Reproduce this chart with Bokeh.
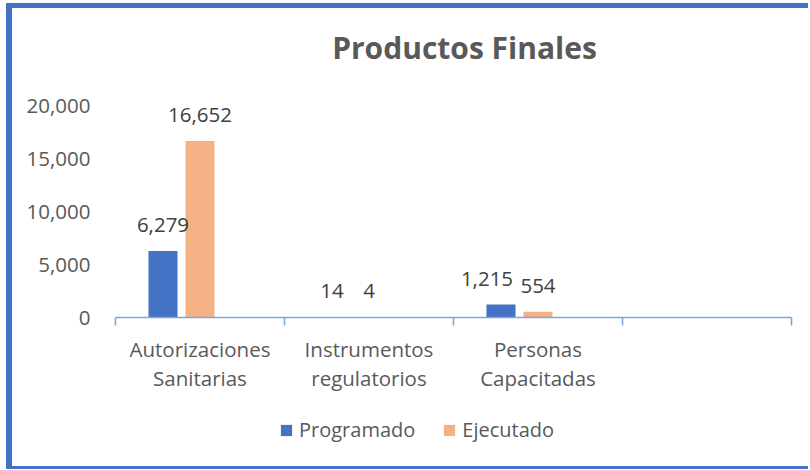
from bokeh.plotting import figure
from bokeh.layouts import column
from bokeh.models import (Range1d, FixedTicker, LinearAxis, Legend, LegendItem, Label,
                          NumeralTickFormatter, ColumnDataSource)
from bokeh.transform import dodge
from bokeh.core.properties import value
from bokeh.embed import file_html
from bokeh.resources import INLINE

# ---------------- data ----------------
title_text = "Productos Finales"
categories = ["Autorizaciones\nSanitarias", "Instrumentos\nregulatorios", "Personas\nCapacitadas", ""]
series = ["Programado", "Ejecutado"]
programado = [6279, 14, 1215]
ejecutado = [16652, 4, 554]
y_ticks = [0, 5000, 10000, 15000, 20000]
y_max = 20000

# ---------------- style / layout ----------------
FONT = "Open Sans"
BLUE = "#4472C4"
ORANGE = "#F4B183"
GRAY = "#595959"
DARK = "#404040"
AXIS = "#7FA6DA"
BAR_W = 0.172
DODGE = 0.219
prog_label_nudge = [0, 0, -14]

W = 796
PLOT_PX = 212        # pixels from 0 to y_max
HEAD_PX = 85         # extra frame space above y_max (holds the title)
FRAME_W = 676
BOTTOM_PX = 100
LEG_H = 49

n = len(categories)
centers = [i + 0.5 for i in range(len(programado))]
y_end = y_max * (PLOT_PX + HEAD_PX) / PLOT_PX

src = ColumnDataSource(dict(
    x=centers,
    prog=programado,
    ejec=ejecutado,
    prog_lbl=[f"{v:,}" for v in programado],
    ejec_lbl=[f"{v:,}" for v in ejecutado],
    nudge=prog_label_nudge,
))

frame_css = {
    "margin-left": "6px", "margin-top": "3px",
    "border-left": f"6px solid {BLUE}",
    "border-top": f"5px solid {BLUE}",
    "border-bottom": f"3px solid {BLUE}",
    "background-color": "white",
}

p = figure(width=W, height=12 + PLOT_PX + HEAD_PX + BOTTOM_PX,
           output_backend="svg", toolbar_location=None,
           x_range=Range1d(0, n), y_range=Range1d(0, y_end),
           frame_width=FRAME_W, frame_height=PLOT_PX + HEAD_PX,
           min_border_left=103, min_border_right=W - 103 - FRAME_W,
           min_border_top=12, min_border_bottom=BOTTOM_PX,
           x_axis_type=None, y_axis_type=None)
p.outline_line_color = None
p.background_fill_color = "white"
p.border_fill_color = "white"

# title (inside the extended frame)
p.add_layout(Label(x=n * 349 / FRAME_W, y=y_max * 270 / PLOT_PX, text=title_text,
                   text_align="center", text_baseline="alphabetic", text_font=FONT,
                   text_font_style="bold", text_font_size="30px", text_color=GRAY))

# y axis
yax = LinearAxis(ticker=FixedTicker(ticks=y_ticks), formatter=NumeralTickFormatter(format="0,0"),
                 axis_line_color=None, major_tick_line_color=None, minor_tick_line_color=None,
                 major_tick_out=0, major_tick_in=0, major_label_standoff=25,
                 major_label_text_font=FONT, major_label_text_font_size="20.5px",
                 major_label_text_color=GRAY)
p.add_layout(yax, "left")

# x axis (labels at centers, ticks at boundaries)
xax = LinearAxis(ticker=FixedTicker(ticks=centers, minor_ticks=list(range(n + 1))),
                 major_label_overrides={c: lab for c, lab in zip(centers, categories)},
                 axis_line_color=AXIS, axis_line_width=1.6,
                 major_tick_line_color=None, major_tick_out=0, major_tick_in=0,
                 minor_tick_line_color=AXIS, minor_tick_line_width=1.6,
                 minor_tick_in=0, minor_tick_out=8,
                 major_label_standoff=9,
                 major_label_text_font=FONT, major_label_text_font_size="20.5px",
                 major_label_text_color=GRAY, major_label_text_line_height=1.06)
p.add_layout(xax, "below")

p.vbar(x=dodge("x", -DODGE), top="prog", width=BAR_W, source=src,
       fill_color=BLUE, line_color=None)
p.vbar(x=dodge("x", 0), top="ejec", width=BAR_W, source=src,
       fill_color=ORANGE, line_color=None)

p.text(x=dodge("x", -DODGE), y="prog", text="prog_lbl", source=src, x_offset="nudge", y_offset=-26,
       text_align="center", text_baseline="alphabetic", text_font=value(FONT),
       text_font_size="20.5px", text_color=DARK)
p.text(x=dodge("x", 0), y="ejec", text="ejec_lbl", source=src, y_offset=-26,
       text_align="center", text_baseline="alphabetic", text_font=value(FONT),
       text_font_size="20.5px", text_color=DARK)

# legend strip (its own small figure; swatch renderers have zero height so draw nothing)
pl = figure(width=W, height=LEG_H, output_backend="svg", toolbar_location=None,
            x_range=Range1d(0, 1), y_range=Range1d(0, 1),
            min_border=0, x_axis_type=None, y_axis_type=None)
pl.outline_line_color = None
pl.background_fill_color = "white"
pl.border_fill_color = "white"
lr1 = pl.vbar(x=[0.5], top=[0], bottom=[0], width=0.01, fill_color=BLUE, line_color=None)
lr2 = pl.vbar(x=[0.5], top=[0], bottom=[0], width=0.01, fill_color=ORANGE, line_color=None)
legend = Legend(items=[LegendItem(label=series[0], renderers=[lr1]),
                       LegendItem(label=series[1], renderers=[lr2])],
                orientation="horizontal", location=(164, 23),
                glyph_width=14, glyph_height=14, label_standoff=6, spacing=27,
                padding=0, margin=0, border_line_color=None, background_fill_alpha=0,
                label_text_font=FONT, label_text_font_size="20px", label_text_color=GRAY)
pl.add_layout(legend, "center")

layout = column(p, pl, spacing=0, styles=frame_css)

open("out.html", "w").write(file_html(layout, INLINE))
